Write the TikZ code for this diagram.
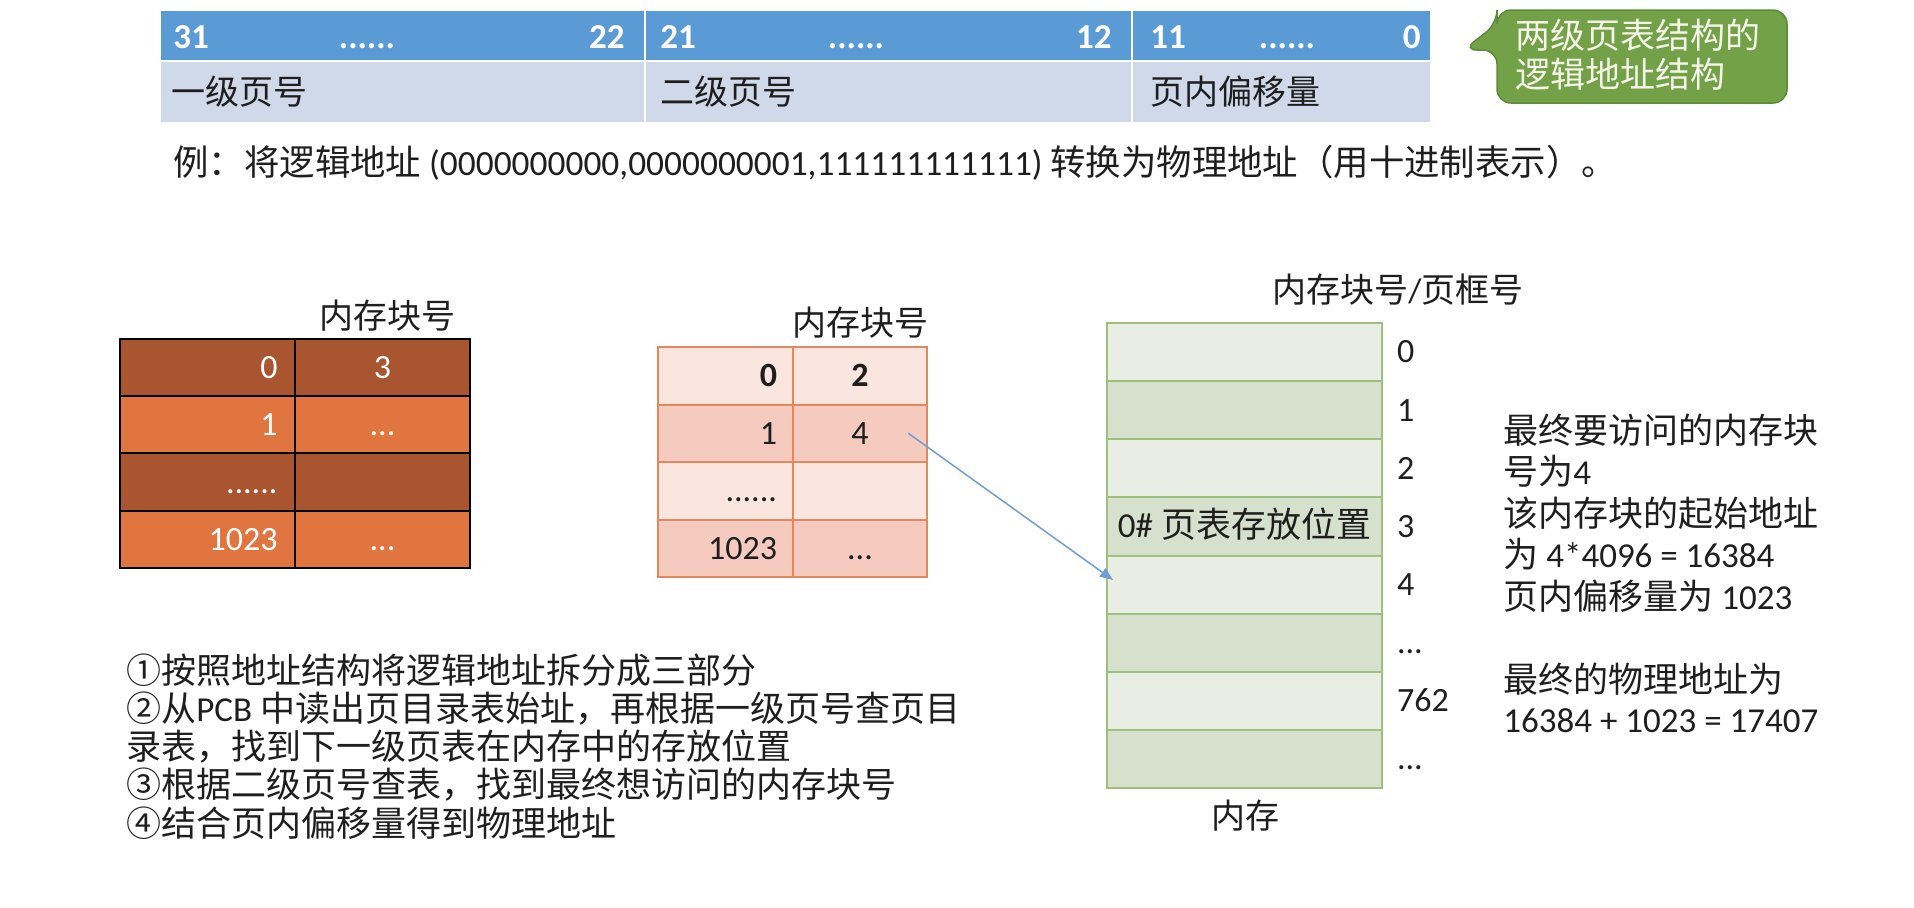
\documentclass[tikz,border=0pt]{standalone}
\usepackage{fontspec}
\setmainfont{Carlito}
\newfontfamily\zh{Noto Sans CJK SC}
\usetikzlibrary{arrows.meta,positioning}
\definecolor{hdrblue}{HTML}{5B9BD5}
\definecolor{lblblue}{HTML}{CFD9EA}
\definecolor{calgreen}{HTML}{73A148}
\definecolor{calline}{HTML}{5B8A3A}
\definecolor{caltext}{HTML}{F4F4E8}
\definecolor{pddark}{HTML}{A85530}
\definecolor{pdlight}{HTML}{E0753F}
\definecolor{ptlight}{HTML}{FBE5DF}
\definecolor{ptdark}{HTML}{F4CBBE}
\definecolor{ptline}{HTML}{E5875A}
\definecolor{memlight}{HTML}{E8EEE4}
\definecolor{memdark}{HTML}{D5E0CD}
\definecolor{memline}{HTML}{9DC17D}
\definecolor{arrblue}{HTML}{6E9ED3}
\definecolor{ink}{HTML}{1E1E1E}
\newcommand\sixdots{......}
\newcommand\tridots{...}
\tikzset{
  txt/.style={inner sep=0pt, text=ink, font=\fontsize{17}{20}\selectfont},
  hdrcell/.style={fill=hdrblue, draw=white, line width=1pt, inner sep=0pt, minimum height=25.5pt},
  lblcell/.style={fill=lblblue, draw=white, line width=1pt, inner sep=0pt, minimum height=31pt},
  hdrnum/.style={inner sep=0pt, text=white, font=\fontsize{17.5}{20}\selectfont\bfseries},
  cellbase/.style={inner sep=0pt, outer sep=0pt, text height=13.6pt, text depth=2.7pt,
    font=\fontsize{17}{20}\selectfont},
  pdcell/.style={cellbase, draw=black, line width=1pt, text=white,
    minimum width=87.5pt, minimum height=28.625pt},
  ptcell/.style={cellbase, draw=ptline, line width=1pt, text=ink,
    minimum width=67.25pt, minimum height=28.75pt},
  memcell/.style={cellbase, draw=memline, line width=1pt, text=ink,
    minimum width=137.5pt, minimum height=29.06pt},
  callout/.style={fill=calgreen, draw=calline, line width=0.75pt, rounded corners=7pt},
  ptr/.style={-{Triangle[length=6.5pt,width=5pt]}, line width=0.75pt, arrblue},
}
\begin{document}
\begin{tikzpicture}[x=0.5pt,y=-0.5pt]
  \useasboundingbox (0,0) rectangle (1914,907);
  % logical address layout
  \node[hdrcell, minimum width=242.5pt] (h1) at (402.5,35.5) {};
  \node[hdrcell, minimum width=243.5pt] (h2) at (888.5,35.5) {};
  \node[hdrcell, minimum width=149.5pt] (h3) at (1281.5,35.5) {};
  \node[lblcell, minimum width=242.5pt] (l1) at (402.5,92) {};
  \node[lblcell, minimum width=243.5pt] (l2) at (888.5,92) {};
  \node[lblcell, minimum width=149.5pt] (l3) at (1281.5,92) {};
  \node[hdrnum, anchor=base west] (b31) at (173,48) {31};
  \node[hdrnum, anchor=base] (d1) at (367,48) {\sixdots};
  \node[hdrnum, anchor=base east] (b22) at (625,48) {22};
  \node[hdrnum, anchor=base west] (b21) at (660,48) {21};
  \node[hdrnum, anchor=base] (d2) at (856,48) {\sixdots};
  \node[hdrnum, anchor=base east] (b12) at (1112,48) {12};
  \node[hdrnum, anchor=base west] (b11) at (1150,48) {11};
  \node[hdrnum, anchor=base] (d3) at (1287,48) {\sixdots};
  \node[hdrnum, anchor=base east] (b0) at (1421,48) {0};
  \node[txt, anchor=west] (f1) at (171,92) {\zh 一级页号};
  \node[txt, anchor=west] (f2) at (660,92) {\zh 二级页号};
  \node[txt, anchor=west] (f3) at (1150,92) {\zh 页内偏移量};
  % callout
  \draw[callout] (1463,50) -- (1497,50) -- (1497,103) -- (1787,103) -- (1787,10)
    -- (1497,10) -- (1497,24) -- cycle;
  \node[txt, anchor=west, align=left, text=caltext,
    font=\fontsize{17.5}{19.5}\selectfont\zh] (note) at (1515,55) {两级页表结构的\\逻辑地址结构};
  % example
  \node[txt, anchor=west, font=\fontsize{17.7}{20}\selectfont] (ex) at (173,163)
    {{\zh 例：将逻辑地址} (0000000000,0000000001,111111111111) {\zh 转换为物理地址（用十进制表示）。}};
  % page directory
  \node[txt] (pdtitle) at (387,316) {\zh 内存块号};
  \foreach \a/\b/\c [count=\i from 0] in {0/3/pddark, 1/\tridots/pdlight, \sixdots/{}/pddark, 1023/\tridots/pdlight}{
    \node[pdcell, fill=\c, text width=70pt, align=right] (pd\i a) at (207.5,{367.6+57.25*\i}) {\a};
    \node[pdcell, fill=\c] (pd\i b) at (382.5,{367.6+57.25*\i}) {\b};
  }
  % 0# page table
  \node[txt] (pttitle) at (860,323) {\zh 内存块号};
  \foreach \a/\b/\c [count=\i from 0] in {\textbf{0}/\textbf{2}/ptlight, 1/4/ptdark, \sixdots/{}/ptlight, 1023/\tridots/ptdark}{
    \node[ptcell, fill=\c, text width=51.5pt, align=right] (pt\i a) at (725.5,{375.75+57.5*\i}) {\a};
    \node[ptcell, fill=\c] (pt\i b) at (860,{375.75+57.5*\i}) {\b};
  }
  % memory
  \node[txt] (memtitle) at (1398,290) {{\zh 内存块号}/{\zh 页框号}};
  \foreach \c/\lab [count=\i from 0] in {memlight/0, memdark/1, memlight/2, memdark/3,
      memlight/4, memdark/\tridots, memlight/762, memdark/\tridots}{
    \node[memcell, fill=\c] (mem\i) at (1244.5,{352.06+58.125*\i}) {};
    \node[cellbase, text=ink, anchor=west, right=7.5pt of mem\i.east] (memlab\i) {\lab};
  }
  \node[cellbase, text=ink, font=\fontsize{17.5}{20}\selectfont] (ptpos) at (mem3) {0\# {\zh 页表存放位置}};
  \node[txt] (memname) at (1245,816) {\zh 内存};
  % lookup
  \coordinate (src) at ([xshift=-9.5pt]pt1b.east);
  \coordinate (dst) at ([xshift=3pt,yshift=2.3pt]mem4.west);
  \draw[ptr] (src) -- (dst);
  % result
  \foreach \n/\t in {0/{\zh 最终要访问的内存块}, 1/{\zh 号为}4, 2/{\zh 该内存块的起始地址},
      3/{\zh 为} 4*4096 = 16384, 4/{\zh 页内偏移量为} 1023, 6/{\zh 最终的物理地址为},
      7/16384 + 1023 = 17407}{
    \node[txt, anchor=west, font=\fontsize{17.5}{20}\selectfont] (res\n) at (1503,{430+41.5*\n}) {\t};
  }
  % steps
  \foreach \t [count=\i from 0] in {{\zh ①按照地址结构将逻辑地址拆分成三部分},
      {\zh ②从}PCB {\zh 中读出页目录表始址，再根据一级页号查页目},
      {\zh 录表，找到下一级页表在内存中的存放位置},
      {\zh ③根据二级页号查表，找到最终想访问的内存块号},
      {\zh ④结合页内偏移量得到物理地址}}{
    \node[txt, anchor=west, font=\fontsize{17.5}{20}\selectfont] (step\i) at (126,{670+38.25*\i}) {\t};
  }
\end{tikzpicture}
\end{document}
